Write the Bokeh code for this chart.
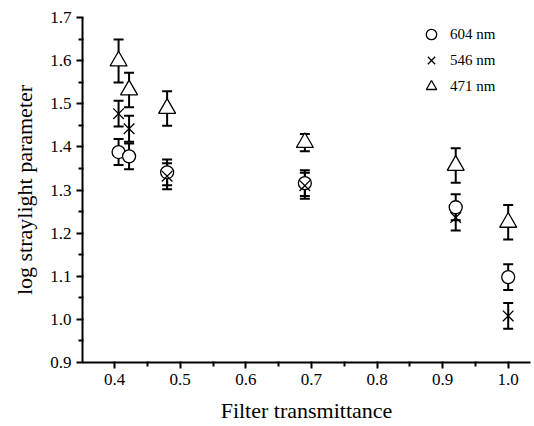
from bokeh.plotting import figure
from bokeh.models import ColumnDataSource, Whisker, TeeHead, Legend, LegendItem, FixedTicker, Range1d
from bokeh.embed import file_html
from bokeh.resources import INLINE

# Data
x_vals = [0.406, 0.422, 0.48, 0.69, 0.92, 1.0]
y_604 = [1.388, 1.378, 1.341, 1.316, 1.26, 1.098]
e_604 = [0.03, 0.03, 0.03, 0.03, 0.03, 0.03]
y_546 = [1.477, 1.442, 1.332, 1.31, 1.236, 1.008]
e_546 = [0.03, 0.03, 0.03, 0.03, 0.03, 0.03]
y_471 = [1.599, 1.532, 1.489, 1.41, 1.357, 1.225]
e_471 = [0.05, 0.04, 0.04, 0.02, 0.04, 0.04]
x_ticks = [0.4, 0.5, 0.6, 0.7, 0.8, 0.9, 1.0]
y_ticks = [0.9, 1.0, 1.1, 1.2, 1.3, 1.4, 1.5, 1.6, 1.7]
labels = ["604 nm", "546 nm", "471 nm"]

FONT = "Liberation Serif"

p = figure(width=534, height=426, output_backend="svg", toolbar_location=None,
           x_range=Range1d(0.351, 1.034), y_range=Range1d(0.9, 1.7),
           min_border_left=82, min_border_right=4, min_border_top=17, min_border_bottom=64)
p.outline_line_color = None
p.grid.visible = False
p.background_fill_color = "white"

def src(y, e):
    return ColumnDataSource(dict(x=x_vals, y=y,
                                 lo=[a - b for a, b in zip(y, e)],
                                 hi=[a + b for a, b in zip(y, e)]))

s604 = src(y_604, e_604)
s546 = src(y_546, e_546)
s471 = src(y_471, e_471)

for s in (s604, s546, s471):
    w = Whisker(source=s, base="x", lower="lo", upper="hi", level="underlay",
                line_color="black", line_width=2,
                upper_head=TeeHead(size=10, line_width=2, line_color="black"),
                lower_head=TeeHead(size=10, line_width=2, line_color="black"))
    p.add_layout(w)

r604 = p.scatter("x", "y", source=s604, marker="circle", size=13,
                 fill_color="white", line_color="black", line_width=1.3)
r546 = p.scatter("x", "y", source=s546, marker="x", size=15,
                 line_color="black", line_width=1.3)
r471 = p.scatter("x", "y", source=s471, marker="triangle", size=17,
                 fill_color="white", line_color="black", line_width=1.3)

legend = Legend(items=[LegendItem(label=labels[0], renderers=[r604]),
                       LegendItem(label=labels[1], renderers=[r546]),
                       LegendItem(label=labels[2], renderers=[r471])],
                location="top_right", border_line_alpha=0, background_fill_alpha=0,
                label_text_font=FONT, label_text_font_size="15px",
                label_text_color="black",
                glyph_width=30, glyph_height=26, label_height=20, label_width=76,
                spacing=0, padding=0, margin=4, label_standoff=4)
p.add_layout(legend)

p.xaxis.ticker = FixedTicker(ticks=x_ticks,
                            minor_ticks=[round(t + 0.05, 2) for t in x_ticks] + [0.35])
p.yaxis.ticker = FixedTicker(ticks=y_ticks,
                            minor_ticks=[round(t + 0.05, 2) for t in y_ticks[:-1]])

p.axis.axis_line_width = 2
p.axis.axis_line_color = "black"
p.axis.major_tick_line_color = "black"
p.axis.minor_tick_line_color = "black"
p.axis.major_tick_line_width = 2
p.axis.minor_tick_line_width = 2
p.axis.major_tick_out = 6
p.axis.major_tick_in = 1
p.axis.minor_tick_out = 4
p.axis.minor_tick_in = 1
p.axis.major_label_text_font = FONT
p.axis.major_label_text_font_size = "17px"
p.axis.major_label_text_color = "black"
p.axis.axis_label_text_font = FONT
p.axis.axis_label_text_font_size = "22px"
p.axis.axis_label_text_color = "black"
p.axis.axis_label_text_font_style = "normal"
p.axis.major_label_standoff = 5

p.xaxis.major_label_overrides = {t: f"{t:.1f}" for t in x_ticks}
p.yaxis.major_label_overrides = {t: f"{t:.1f}" for t in y_ticks}
p.xaxis.axis_label = "Filter transmittance"
p.yaxis.axis_label = "log straylight parameter"
p.xaxis.axis_label_standoff = 10
p.yaxis.axis_label_standoff = 10

open("out.html", "w").write(file_html(p, INLINE))
